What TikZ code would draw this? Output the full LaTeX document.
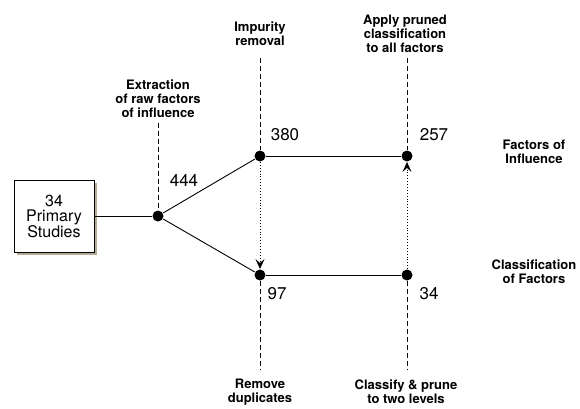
\documentclass[tikz,border=0pt]{standalone}
\usepackage{fontspec}
\setmainfont{TeX Gyre Heros}
\usetikzlibrary{arrows.meta,shadows}
\definecolor{shadowtan}{RGB}{180,170,150}
\newcommand{\stagedot}[2]{
\node[dot] (#1) at (#2) {}; %段階の点
}
\tikzset{
  dot/.style={circle, fill=black, inner sep=0pt, minimum size=11pt},
  lbl/.style={font=\fontsize{13}{14}\selectfont\bfseries, align=center, inner sep=0pt},
  num/.style={font=\fontsize{17}{18}\selectfont, inner sep=0pt},
  stepline/.style={dash pattern=on 5pt off 3pt},
  flow/.style={dotted, -{Stealth[length=10pt,width=9pt,inset=4pt]}}
}

\begin{document}
\begin{tikzpicture}[x=1pt, y=-1pt, line width=0.9pt]
\useasboundingbox (0,0) rectangle (580,408);

%一次研究の箱
\node[draw, fill=white, minimum width=80pt, minimum height=72pt, align=center,
  font=\fontsize{16}{15.5}\selectfont,
  drop shadow={shadow xshift=2.5pt, shadow yshift=-2.5pt, fill=shadowtan, opacity=1}]
  (studies) at (54,216) {34\\Primary\\Studies};

%各段階の点
\stagedot{raw}{158,216}
\stagedot{pure}{260,156}
\stagedot{all}{407,156}
\stagedot{dup}{260,275}
\stagedot{cls}{407,275}

%破線の端点
\coordinate (rawT) at (158,123);
\coordinate (pureT) at (260,58);
\coordinate (allT) at (407,58);
\coordinate (dupB) at (260,370);
\coordinate (clsB) at (407,370);

%流れ
\draw (studies) -- (raw);
\draw (raw) -- (pure);
\draw (raw) -- (dup);
\draw (pure) -- (all);
\draw (dup) -- (cls);
\draw[flow] (pure) -- (dup);
\draw[flow] (cls) -- (all);

%段階の破線
\draw[stepline] (rawT) -- (raw);
\draw[stepline] (pureT) -- (pure);
\draw[stepline] (allT) -- (all);
\draw[stepline] (dup) -- (dupB);
\draw[stepline] (cls) -- (clsB);

%件数
\node[num] (n444) at (184,180) {444};
\node[num] (n380) at (285,135) {380};
\node[num] (n257) at (434,135) {257};
\node[num] (n97) at (277,294) {97};
\node[num] (n34) at (429,294) {34};

%説明
\node[lbl] (extract) at (158,99) {Extraction\\of raw factors\\of influence};
\node[lbl] (impurity) at (260,34) {Impurity\\removal};
\node[lbl] (apply) at (405,34) {Apply pruned\\classification\\to all factors};
\node[lbl] (remove) at (260,392) {Remove\\duplicates};
\node[lbl] (classify) at (406,392) {Classify \& prune\\to two levels};
\node[lbl] (foi) at (534,152) {Factors of\\Influence};
\node[lbl] (cof) at (534,272) {Classification\\of Factors};
\end{tikzpicture}
\end{document}
